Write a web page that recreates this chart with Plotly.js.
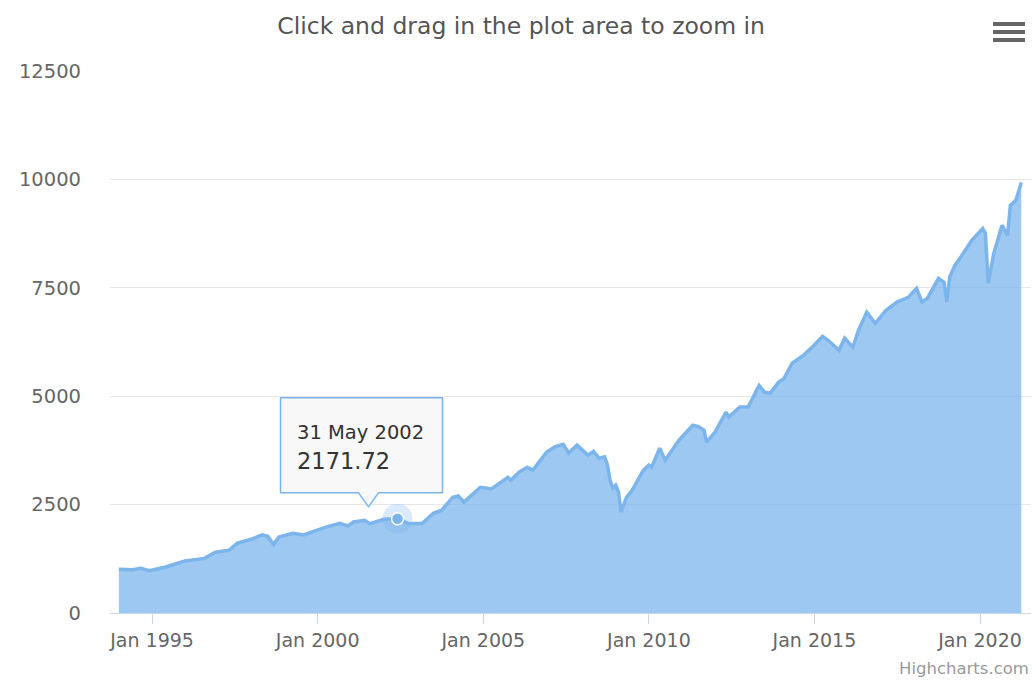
<!DOCTYPE html>
<html>
<head>
<meta charset="utf-8">
<script src="https://cdn.plot.ly/plotly-3.0.1.min.js"></script>
<style>
  html, body { margin: 0; padding: 0; background: #fff; }
  #chart { width: 1034px; height: 681px; }
</style>
</head>
<body>
<div id="chart"></div>
<script>
// Month (end-of-month) labels and index values
const months = [
  '1993-12','1994-05','1994-08','1994-11','1995-05','1995-12','1996-07','1996-11',
  '1997-04','1997-07','1997-12','1998-04','1998-06','1998-08','1998-10','1999-03',
  '1999-07','1999-10','2000-03','2000-08','2000-11','2001-01','2001-05','2001-07',
  '2001-12','2002-05','2002-09','2003-02','2003-06','2003-09','2004-01','2004-03',
  '2004-05','2004-11','2005-03','2005-09','2005-10','2006-01','2006-04','2006-06',
  '2006-11','2007-02','2007-05','2007-07','2007-10','2008-02','2008-04','2008-06',
  '2008-08','2008-09','2008-10','2008-11','2008-12','2009-01','2009-02','2009-04',
  '2009-06','2009-10','2009-12','2010-01','2010-04','2010-06','2010-11','2011-04',
  '2011-06','2011-08','2011-09','2011-12','2012-04','2012-05','2012-09','2012-12',
  '2013-04','2013-06','2013-08','2013-11','2014-01','2014-04','2014-08','2014-12',
  '2015-03','2015-05','2015-09','2015-11','2016-02','2016-04','2016-07','2016-10',
  '2017-02','2017-06','2017-10','2018-01','2018-03','2018-05','2018-09','2018-11',
  '2018-12','2019-01','2019-03','2019-05','2019-09','2020-01','2020-02','2020-03',
  '2020-05','2020-08','2020-10','2020-11','2021-01','2021-03'
];
const values = [
  1010,1000,1030,975,1060,1200,1260,1400,
  1450,1610,1700,1800,1770,1580,1750,1840,
  1800,1870,1980,2070,2010,2100,2140,2060,
  2160,2171.72,2060,2070,2300,2370,2670,2700,
  2560,2900,2860,3130,3060,3250,3360,3290,
  3710,3830,3890,3690,3870,3640,3730,3570,
  3600,3420,3050,2880,2950,2790,2330,2670,
  2830,3290,3410,3360,3800,3530,3990,4330,
  4300,4220,3940,4170,4630,4520,4750,4750,
  5250,5090,5070,5320,5410,5760,5940,6180,
  6380,6290,6060,6340,6130,6520,6940,6680,
  6980,7170,7280,7490,7170,7260,7720,7630,
  7170,7750,8020,8200,8590,8870,8760,7600,
  8290,8940,8710,9400,9520,9930
];

// Hovered point shown in the tooltip
const hoverMonth = '2002-05';
const hoverLabel = '31 May 2002';

// Axis ticks
const yTicks = [0, 2500, 5000, 7500, 10000, 12500];
const yTickText = ['0', '2500', '5000', '7500', '10000', '12500'];

function monthEnd(m) {
  const [y, mo] = m.split('-').map(Number);
  return new Date(Date.UTC(y, mo, 0)).toISOString().slice(0, 10);
}
const dates = months.map(monthEnd);
const hIdx = months.indexOf(hoverMonth);
const hoverDate = dates[hIdx];
const hoverValue = values[hIdx];

const FONT = 'DejaVu Sans, Verdana, sans-serif';

const traces = [
  {
    type: 'scatter', mode: 'lines', x: dates, y: values,
    fill: 'tozeroy', fillcolor: 'rgba(124,181,236,0.75)',
    line: { color: '#7cb5ec', width: 3.5 },
    hoverinfo: 'skip', showlegend: false
  },
  {
    type: 'scatter', mode: 'markers', x: [hoverDate], y: [hoverValue],
    marker: { size: 30, color: 'rgba(124,181,236,0.28)' },
    hoverinfo: 'skip', showlegend: false
  },
  {
    type: 'scatter', mode: 'markers', x: [hoverDate], y: [hoverValue],
    marker: { size: 12, color: '#7cb5ec', line: { color: '#ffffff', width: 1.5 } },
    hoverinfo: 'skip', showlegend: false
  }
];

const layout = {
  width: 1034, height: 681,
  margin: { l: 110, r: 3, t: 71, b: 68 },
  paper_bgcolor: '#ffffff', plot_bgcolor: '#ffffff',
  font: { family: FONT, color: '#666666' },
  title: {
    text: 'Click and drag in the plot area to zoom in',
    font: { family: FONT, size: 23.5, color: '#555555' },
    x: 0.504, xref: 'container', xanchor: 'center',
    y: 1 - 26 / 681, yref: 'container', yanchor: 'middle'
  },
  xaxis: {
    type: 'date',
    range: ['1993-09-24', '2021-07-16'],
    tick0: '1995-01-01', dtick: 'M60', tickformat: '%b %Y',
    ticks: 'outside', ticklen: 10, tickwidth: 1, tickcolor: '#ccd6eb',
    showline: true, linecolor: '#ccd6eb', linewidth: 1,
    showgrid: false, zeroline: false,
    tickfont: { family: FONT, size: 19, color: '#666666' },
    fixedrange: true
  },
  yaxis: {
    range: [0, 12500],
    tickvals: yTicks, ticktext: yTickText,
    showgrid: true, gridcolor: '#e6e6e6', gridwidth: 1,
    zeroline: false, showline: false, ticks: '',
    ticklabelstandoff: 28,
    tickfont: { family: FONT, size: 19.5, color: '#666666' },
    fixedrange: true
  },
  shapes: [
    // tooltip callout box with pointer, anchored to the hovered point
    {
      type: 'path', xref: 'x', yref: 'y',
      xsizemode: 'pixel', ysizemode: 'pixel',
      xanchor: hoverDate, yanchor: hoverValue,
      path: 'M -117 26 L -39 26 L -29 12 L -19 26 L 45 26 L 45 121 L -117 121 Z',
      fillcolor: 'rgba(247,247,247,0.92)',
      line: { color: '#7cb5ec', width: 1.5 },
      layer: 'above'
    },
    // hamburger menu icon
    { type: 'rect', xref: 'paper', yref: 'paper', xsizemode: 'pixel', ysizemode: 'pixel',
      xanchor: 1, yanchor: 1, x0: -38, x1: -6, y0: 45, y1: 49,
      fillcolor: '#666666', line: { width: 0 } },
    { type: 'rect', xref: 'paper', yref: 'paper', xsizemode: 'pixel', ysizemode: 'pixel',
      xanchor: 1, yanchor: 1, x0: -38, x1: -6, y0: 37, y1: 41,
      fillcolor: '#666666', line: { width: 0 } },
    { type: 'rect', xref: 'paper', yref: 'paper', xsizemode: 'pixel', ysizemode: 'pixel',
      xanchor: 1, yanchor: 1, x0: -38, x1: -6, y0: 29, y1: 33,
      fillcolor: '#666666', line: { width: 0 } }
  ],
  annotations: [
    {
      x: hoverDate, y: hoverValue, xref: 'x', yref: 'y',
      text: hoverLabel, showarrow: false,
      xanchor: 'left', yanchor: 'middle', xshift: -103, yshift: 86,
      font: { family: FONT, size: 19.5, color: '#333333' }
    },
    {
      x: hoverDate, y: hoverValue, xref: 'x', yref: 'y',
      text: hoverValue.toFixed(2), showarrow: false,
      xanchor: 'left', yanchor: 'middle', xshift: -103, yshift: 58,
      font: { family: FONT, size: 22.5, color: '#333333' }
    },
    {
      x: 1, y: 0, xref: 'paper', yref: 'paper',
      text: 'Highcharts.com', showarrow: false,
      xanchor: 'right', yanchor: 'middle', xshift: 0, yshift: -55,
      font: { family: FONT, size: 16.5, color: '#999999' }
    }
  ]
};

Plotly.newPlot('chart', traces, layout, { displayModeBar: false, staticPlot: true });
</script>
</body>
</html>
